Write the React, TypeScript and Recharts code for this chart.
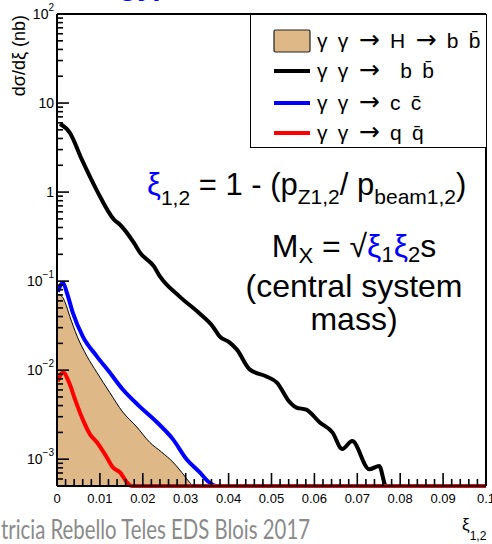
import {
  Area,
  ComposedChart,
  Legend,
  Line,
  ReferenceLine,
  XAxis,
  YAxis,
} from "recharts";

const FONT = "'Liberation Sans', Arial, Helvetica, sans-serif";
const BLUE = "#0000ff";

// axis ranges
const XI_MIN = 0;
const XI_MAX = 0.1;
const Y_MIN = 5e-4;
const Y_MAX = 100;

const X_MAJOR = [0, 0.01, 0.02, 0.03, 0.04, 0.05, 0.06, 0.07, 0.08, 0.09, 0.1];
const X_LABELS = ["0", "0.01", "0.02", "0.03", "0.04", "0.05", "0.06", "0.07", "0.08", "0.09", "0.1"];
const Y_DECADES = [1e-3, 1e-2, 1e-1, 1, 10, 100];
const Y_EXPONENTS = [-3, -2, -1, 0, 1, 2];

// γγ → H → bb̄ (filled)
const hbbXi = [0.0002, 0.0012, 0.0019, 0.003, 0.0047, 0.007, 0.0093, 0.0123, 0.0153, 0.0186, 0.0216, 0.0244, 0.027, 0.0291, 0.0309, 0.0318, 0.1];
const hbbVal = [0.071, 0.067, 0.0575, 0.04, 0.024, 0.0143, 0.0094, 0.0056, 0.0034, 0.0023, 0.00155, 0.0012, 0.00093, 0.00071, 0.00055, 0, 0];

// γγ → bb̄
const bbXi = [0.0007, 0.003, 0.0058, 0.0093, 0.0133, 0.0147, 0.0179, 0.0193, 0.0226, 0.024, 0.0286, 0.0333, 0.0363, 0.0379, 0.0402, 0.0419, 0.0449, 0.0488, 0.0512, 0.0542, 0.0558, 0.0581, 0.0612, 0.0642, 0.0665, 0.0688, 0.0728, 0.0751, 0.0767, 0.1];
const bbVal = [5.85, 4.63, 2.31, 1.04, 0.49, 0.43, 0.27, 0.21, 0.146, 0.113, 0.067, 0.043, 0.031, 0.024, 0.0205, 0.0171, 0.0102, 0.0085, 0.0073, 0.0044, 0.0038, 0.0036, 0.0026, 0.002, 0.0013, 0.0016, 0.00077, 0.00084, 0, 0];

// γγ → cc̄
const ccXi = [0.0002, 0.0014, 0.0023, 0.0037, 0.006, 0.0093, 0.0123, 0.0153, 0.0193, 0.0233, 0.027, 0.0302, 0.0333, 0.0351, 0.0372, 0.1];
const ccVal = [0.076, 0.096, 0.074, 0.044, 0.024, 0.0143, 0.0094, 0.0061, 0.0039, 0.0026, 0.00168, 0.001, 0.00071, 0.00057, 0, 0];

// γγ → qq̄
const qqXi = [0.0002, 0.0014, 0.003, 0.0042, 0.006, 0.0077, 0.0093, 0.0116, 0.013, 0.0147, 0.0163, 0.0174, 0.1];
const qqVal = [0.0075, 0.0094, 0.0069, 0.0047, 0.0028, 0.0019, 0.00155, 0.00105, 0.00081, 0.00071, 0.00055, 0, 0];

// legend rows: text before the arrow, text after it, barred quark
const LEGEND_HEAD = ["γ γ ", "γ γ ", "γ γ ", "γ γ "];
const LEGEND_MID = [" H ", "  b ", " c ", " q "];
const LEGEND_BAR = ["b", "b", "c", "q"];

// empty bins sit on the bottom of the log axis, like ROOT does
const toPoints = (xi: number[], val: number[]) =>
  xi.map((x, i) => ({ xi: x, v: val[i] > 0 ? val[i] : Y_MIN }));

const hbbData = toPoints(hbbXi, hbbVal);
const bbData = toPoints(bbXi, bbVal);
const ccData = toPoints(ccXi, ccVal);
const qqData = toPoints(qqXi, qqVal);

const X_TICKS = Array.from({ length: 51 }, (_, i) => +(i * 0.002).toFixed(3));
const Y_TICKS: number[] = [];
for (let e = -4; e <= 2; e++) {
  for (let k = 1; k <= 9; k++) {
    const v = +(k * 10 ** e).toPrecision(3);
    if (v >= Y_MIN && v <= Y_MAX) Y_TICKS.push(v);
  }
}

function XTick({ x, y, payload }: any) {
  const i = X_MAJOR.findIndex((m) => Math.abs(m - payload.value) < 1e-9);
  return (
    <g>
      <line x1={x} x2={x} y1={y} y2={y - (i >= 0 ? 13 : 7)} stroke="#000" strokeWidth={1.6} />
      {i >= 0 && (
        <text x={x} y={y + 17} textAnchor="middle" fontSize={13} fontFamily={FONT} fill="#000">
          {X_LABELS[i]}
        </text>
      )}
    </g>
  );
}

function YTick({ x, y, payload }: any) {
  const i = Y_DECADES.findIndex((d) => Math.abs(d - payload.value) / d < 1e-6);
  const e = i >= 0 ? Y_EXPONENTS[i] : 0;
  return (
    <g>
      <line x1={x} x2={x + (i >= 0 ? 12 : 6)} y1={y} y2={y} stroke="#000" strokeWidth={1.6} />
      {i >= 0 && (
        <text x={x - 3} y={y + 5} textAnchor="end" fontSize={14} fontFamily={FONT} fill="#000">
          {e === 0 ? "1" : "10"}
          {e !== 0 && e !== 1 && (
            <tspan fontSize={10} dy={-8}>
              {e < 0 ? `\u2212${-e}` : `${e}`}
            </tspan>
          )}
        </text>
      )}
    </g>
  );
}

const Arrow = () => (
  <tspan fontFamily="'DejaVu Sans', sans-serif" fontSize={25}>
    →
  </tspan>
);

function LegendBox() {
  return (
    <svg width={237} height={134} style={{ display: "block" }}>
      <rect x={0.5} y={0.5} width={236} height={133} fill="#fff" stroke="#000" strokeWidth={1} />
      <rect x={24} y={16} width={36} height={22} rx={1.5} fill="#deb887" stroke="#222" strokeWidth={1.2} />
      <line x1={24} x2={60} y1={57} y2={57} stroke="#000" strokeWidth={4} />
      <line x1={24} x2={60} y1={89} y2={89} stroke={BLUE} strokeWidth={4} />
      <line x1={24} x2={60} y1={119} y2={119} stroke="#ff0000" strokeWidth={4} />
      {LEGEND_BAR.map((q, i) => (
        <text
          key={i}
          x={67}
          y={[34, 64, 96, 126][i]}
          fontSize={21}
          fontFamily={FONT}
          fill="#000"
          wordSpacing={4.5}
          style={{ whiteSpace: "pre" }}
        >
          {LEGEND_HEAD[i]}
          <Arrow />
          {i === 0 ? (
            <>
              {LEGEND_MID[i]}
              <Arrow />
              {" b "}
            </>
          ) : (
            LEGEND_MID[i]
          )}
          {q + "\u0304"}
        </text>
      ))}
    </svg>
  );
}

function Annotations() {
  return (
    <svg
      width={492}
      height={544}
      style={{ position: "absolute", left: 0, top: 0, pointerEvents: "none" }}
    >
      <text x={164} y={-5} textAnchor="end" fontSize={30} fontWeight="bold" fontFamily={FONT} fill={BLUE}>
        energy)
      </text>
      <text
        transform="translate(25,15) rotate(-90)"
        textAnchor="end"
        fontSize={18}
        fontFamily={FONT}
        fill="#000"
      >
        dσ/dξ (nb)
      </text>
      <text x={147} y={195} fontSize={31} fontFamily={FONT} fill="#000" style={{ whiteSpace: "pre" }}>
        <tspan fill={BLUE}>ξ</tspan>
        <tspan fontSize={21} dy={10}>1,2</tspan>
        <tspan dy={-10}> = 1 - (p</tspan>
        <tspan fontSize={21} dy={9}>Z1,2</tspan>
        <tspan dy={-9}>/ p</tspan>
        <tspan fontSize={21} dy={9}>beam1,2</tspan>
        <tspan dy={-9}>)</tspan>
      </text>
      <text x={354} y={257} textAnchor="middle" fontSize={32} fontFamily={FONT} fill="#000" style={{ whiteSpace: "pre" }}>
        M
        <tspan fontSize={22} dy={6}>X</tspan>
        <tspan dy={-6}> = √</tspan>
        <tspan fill={BLUE}>ξ</tspan>
        <tspan fontSize={22} dy={5}>1</tspan>
        <tspan dy={-5} fill={BLUE}>ξ</tspan>
        <tspan fontSize={22} dy={5}>2</tspan>
        <tspan dy={-5}>s</tspan>
      </text>
      <text x={354} y={297} textAnchor="middle" fontSize={32} fontFamily={FONT} fill="#000">
        (central system
      </text>
      <text x={354} y={330} textAnchor="middle" fontSize={32} fontFamily={FONT} fill="#000">
        mass)
      </text>
      <text x={462} y={530} fontSize={17} fontFamily={FONT} fill="#000">
        ξ
        <tspan fontSize={12} dy={10}>1,2</tspan>
      </text>
      <text
        x={1}
        y={539}
        fontSize={27}
        textLength={309}
        lengthAdjust="spacingAndGlyphs"
        fontFamily="Lato, 'Open Sans', sans-serif"
        fill="#8a8a8a"
      >
        tricia Rebello Teles EDS Blois 2017
      </text>
    </svg>
  );
}

export default function App() {
  return (
    <div style={{ position: "absolute", left: 0, top: 0, width: 492, height: 544, background: "#fff", overflow: "hidden" }}>
      <ComposedChart width={492} height={544} margin={{ top: 14, right: 6, bottom: 38, left: 0 }}>
        <XAxis
          dataKey="xi"
          type="number"
          domain={[XI_MIN, XI_MAX]}
          ticks={X_TICKS}
          interval={0}
          tickSize={0}
          tickMargin={0}
          tick={XTick}
          tickLine={false}
          height={20}
          axisLine={{ stroke: "#000", strokeWidth: 2 }}
        />
        <YAxis
          dataKey="v"
          type="number"
          scale="log"
          domain={[Y_MIN, Y_MAX]}
          ticks={Y_TICKS}
          interval={0}
          tickSize={0}
          tickMargin={0}
          tick={YTick}
          tickLine={false}
          width={57}
          axisLine={{ stroke: "#000", strokeWidth: 2 }}
        />
        <ReferenceLine y={Y_MAX} stroke="#000" strokeWidth={2} />
        <ReferenceLine x={XI_MAX} stroke="#000" strokeWidth={2} />
        <Legend
          layout="vertical"
          align="center"
          verticalAlign="middle"
          content={() => <LegendBox />}
          wrapperStyle={{ left: 250, top: 14, width: 237, height: 134 }}
        />
        <Area
          data={hbbData}
          dataKey="v"
          type="monotone"
          baseValue={Y_MIN}
          fill="#deb887"
          fillOpacity={1}
          stroke="#000"
          strokeWidth={1}
          dot={false}
          activeDot={false}
          isAnimationActive={false}
        />
        <Line data={bbData} dataKey="v" type="monotone" stroke="#000" strokeWidth={4} dot={false} activeDot={false} isAnimationActive={false} />
        <Line data={ccData} dataKey="v" type="monotone" stroke={BLUE} strokeWidth={4} dot={false} activeDot={false} isAnimationActive={false} />
        <Line data={qqData} dataKey="v" type="monotone" stroke="#ff0000" strokeWidth={4} dot={false} activeDot={false} isAnimationActive={false} />
      </ComposedChart>
      <Annotations />
    </div>
  );
}
